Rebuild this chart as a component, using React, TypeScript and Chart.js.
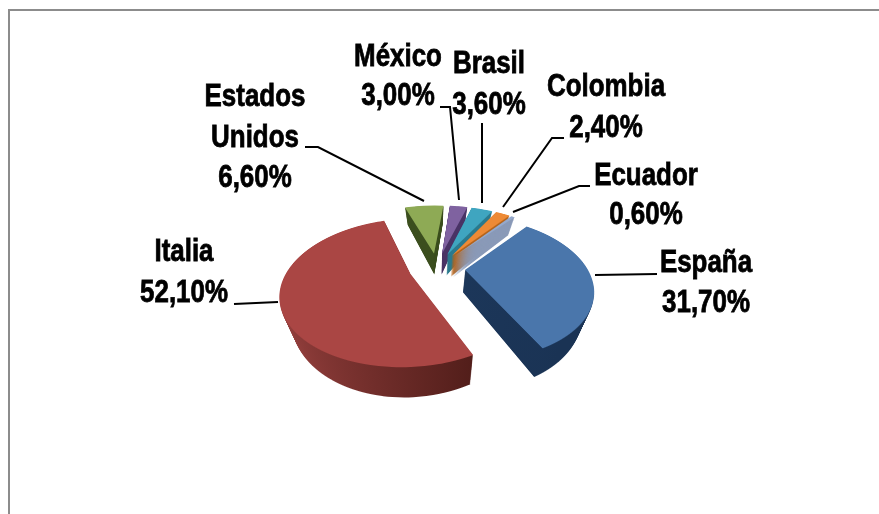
import React, { useEffect, useRef } from "react";
import { Chart, registerables } from "chart.js";

Chart.register(...registerables);

const countries = ["España", "Italia", "Estados Unidos", "México", "Brasil", "Colombia", "Ecuador"];
const shares = [31.7, 52.1, 6.6, 3.0, 3.6, 2.4, 0.6];
const topColors = ["#4a76ab", "#aa4644", "#8eaa55", "#7f62a0", "#3fa5c0", "#ee8a35", "#95a9cc"];
const wallColors: (string | string[])[] = [
  ["#1f3c62", "#1a3354"],
  ["#9a4240", "#4a1a16"],
  "#3c4f1f",
  "#4a3466",
  "#2b7a8e",
  "#b5651d",
  "#8a9ab8",
];
const drawOrder = [2, 3, 4, 5, 6, 1, 0];

const labelFont = "bold 32px 'Liberation Sans', sans-serif";
const labelSqueeze = 0.81;
const labelBlocks = [
  { lines: ["España", "31,70%"], x: 706, y: [263, 303], leader: [[657, 274], [595, 275]] },
  { lines: ["Italia", "52,10%"], x: 184, y: [252, 293], leader: [[234, 304], [278, 302]] },
  { lines: ["Estados", "Unidos", "6,60%"], x: 255, y: [97, 138, 178], leader: [[305, 147], [318, 147], [424, 201]] },
  { lines: ["México", "3,00%"], x: 398, y: [57, 96], leader: [[440, 107], [450, 107], [459, 200]] },
  { lines: ["Brasil", "3,60%"], x: 489, y: [64, 105], leader: [[482, 123], [482, 203]] },
  { lines: ["Colombia", "2,40%"], x: 606, y: [87, 128], leader: [[564, 138], [552, 138], [503, 207]] },
  { lines: ["Ecuador", "0,60%"], x: 646, y: [176, 215], leader: [[590, 186], [579, 186], [513, 212]] },
];

// projection of the tilted pie
const view = { cx: 437, cy: 268, rx: 122, ry: 66.5, persp: 0.25, explode: 0.23, depth: 22, shrink: 0.08, layers: 30 };

const tiltedPie = {
  id: "tiltedPie",
  beforeDatasetsDraw(chart: any) {
    const ctx: CanvasRenderingContext2D = chart.ctx;
    const meta = chart.getDatasetMeta(0);
    const W = chart.width;
    const { cx, cy, rx, ry, persp, explode, depth, shrink, layers } = view;

    const drawLayer = (el: any, t: number, fill: any, ex: number, ey: number, vMin: number, vMax: number) => {
      const R = el.outerRadius;
      const dt = depth * t;
      const s = 1 - shrink * t;
      const yOf = (v: number) => cy + (ry * v + dt) / (1 - persp * v);
      const y0 = Math.floor(yOf(vMin)) - 1;
      const y1 = Math.ceil(yOf(vMax)) + 1;
      const saved = el.options;
      el.options = { backgroundColor: fill, borderColor: "transparent", borderWidth: 0, offset: 0, spacing: 0, borderRadius: 0, circular: true, borderAlign: "center" };
      for (let Y = y0; Y <= y1; Y++) {
        const yc = Y + 0.5;
        const v0 = (yc - cy - dt) / (ry + persp * (yc - cy));
        const w = 1 - persp * v0;
        const a = (rx * s) / (w * R);
        const d = (ry + persp * dt) / (w * w * R);
        ctx.save();
        ctx.beginPath();
        ctx.rect(0, Y, W, 1);
        ctx.clip();
        ctx.setTransform(a, 0, 0, d, cx + ((rx * s) / w) * (ex - el.x / R), yc + ((ry + persp * dt) / (w * w)) * (ey - el.y / R - v0));
        el.draw(ctx);
        ctx.restore();
      }
      el.options = saved;
    };

    for (const i of drawOrder) {
      const el = meta.data[i];
      const mid = (el.startAngle + el.endAngle) / 2;
      const ex = explode * Math.cos(mid);
      const ey = explode * Math.sin(mid);
      let vMin = ey;
      let vMax = ey;
      for (let k = 0; k <= 60; k++) {
        const ang = el.startAngle + ((el.endAngle - el.startAngle) * k) / 60;
        const v = ey + Math.sin(ang);
        vMin = Math.min(vMin, v);
        vMax = Math.max(vMax, v);
      }
      const wall = wallColors[i];
      let wallFill: any = wall;
      if (Array.isArray(wall)) {
        const g = ctx.createLinearGradient(el.x - el.outerRadius, 0, el.x + el.outerRadius * 0.6, 0);
        g.addColorStop(0, wall[0]);
        g.addColorStop(1, wall[1]);
        wallFill = g;
      }
      for (let n = layers; n >= 1; n--) drawLayer(el, n / layers, wallFill, ex, ey, vMin, vMax);
      drawLayer(el, 0, topColors[i], ex, ey, vMin, vMax);
    }
    ctx.setTransform(1, 0, 0, 1, 0, 0);
    return false;
  },
  afterDraw(chart: any) {
    const ctx: CanvasRenderingContext2D = chart.ctx;
    ctx.save();
    ctx.strokeStyle = "#8c8c8c";
    ctx.lineWidth = 2;
    ctx.beginPath();
    ctx.moveTo(9, chart.height);
    ctx.lineTo(9, 10);
    ctx.lineTo(chart.width, 10);
    ctx.stroke();
    ctx.font = labelFont;
    ctx.fillStyle = "#000";
    ctx.strokeStyle = "#000";
    ctx.textAlign = "center";
    ctx.textBaseline = "middle";
    for (const b of labelBlocks) {
      b.lines.forEach((line, j) => {
        ctx.save();
        ctx.translate(b.x, b.y[j]);
        ctx.scale(labelSqueeze, 1);
        ctx.lineWidth = 0.8;
        ctx.strokeText(line, 0, 0);
        ctx.fillText(line, 0, 0);
        ctx.restore();
      });
      ctx.beginPath();
      b.leader.forEach(([x, y], j) => (j ? ctx.lineTo(x, y) : ctx.moveTo(x, y)));
      ctx.stroke();
    }
    ctx.restore();
  },
};

export default function App() {
  const ref = useRef<HTMLCanvasElement>(null);
  useEffect(() => {
    document.body.style.margin = "0";
    const chart = new Chart(ref.current!, {
      type: "pie",
      data: { labels: countries, datasets: [{ data: shares, backgroundColor: topColors, borderWidth: 0 }] },
      options: {
        responsive: false,
        animation: false,
        rotation: 40,
        plugins: { legend: { display: false }, tooltip: { enabled: false } },
      },
      plugins: [tiltedPie],
    } as any);
    return () => chart.destroy();
  }, []);
  return <canvas ref={ref} width={879} height={514} style={{ display: "block", background: "#fff" }} />;
}
